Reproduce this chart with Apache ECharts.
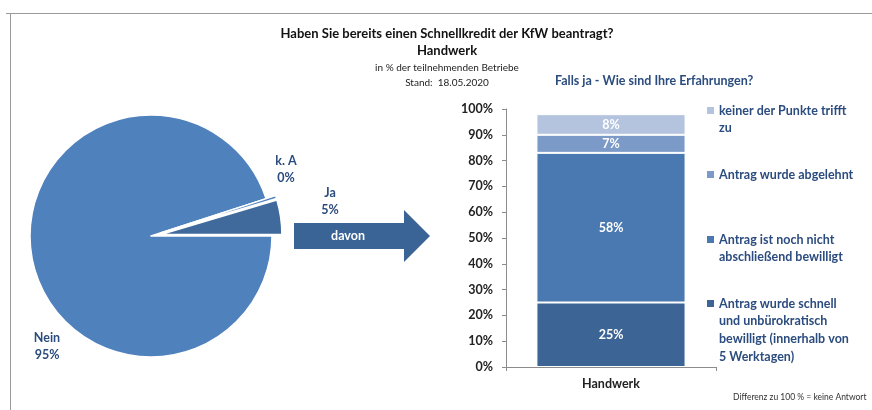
<!DOCTYPE html>
<html>
<head>
<meta charset="utf-8">
<script src="https://cdn.jsdelivr.net/npm/echarts@6/dist/echarts.min.js"></script>
<style>
  html, body { margin: 0; padding: 0; background: #fff; }
  #chart { width: 872px; height: 410px; }
</style>
</head>
<body>
<div id="chart"></div>
<script>
// pie: Haben Sie bereits einen Schnellkredit beantragt?
const pieNames = ['k. A', 'Ja', 'Nein'];
const pieValues = [0.4, 4.6, 95.0];
const pieColors = ['#4F81BD', '#3F6A9B', '#4F81BD'];

// stacked bar: Falls ja - Wie sind Ihre Erfahrungen? (bottom to top)
const barCategories = ['Handwerk'];
const barNames = [
    'Antrag wurde schnell\nund unbürokratisch\nbewilligt (innerhalb von\n5 Werktagen)',
    'Antrag ist noch nicht\nabschließend bewilligt',
    'Antrag wurde abgelehnt',
    'keiner der Punkte trifft\nzu'
];
const barValues = [25, 58, 7, 8];
const barColors = ['#3C6494', '#4A78B0', '#7B9AC8', '#B4C4DE'];
const yTicks = [0, 10, 20, 30, 40, 50, 60, 70, 80, 90, 100];

const FONT = 'Lato, "Liberation Sans", sans-serif';
const DARK_BLUE = '#2B4C7E';

let chartElem = document.getElementById('chart');
let chart = echarts.init(chartElem, null, { renderer: 'canvas' });

// manual legend, top item first like the original
let legendY = [111, 175, 240, 304];
let legendGraphics = [];
for (let i = barNames.length - 1; i >= 0; i--) {
    let y = legendY[barNames.length - 1 - i];
    legendGraphics.push({
        type: 'rect',
        shape: { x: 707, y: y - 4, width: 7, height: 7 },
        style: { fill: barColors[i] }
    });
    legendGraphics.push({
        type: 'text',
        x: 719,
        y: y - 9,
        style: {
            text: barNames[i],
            fill: DARK_BLUE,
            font: 'bold 12.5px ' + FONT,
            lineHeight: 17.6,
            verticalAlign: 'top'
        }
    });
}

// pie texts sit where the original put them (no leader lines)
const pieLabelPos = {
    'k. A': [286, 169],
    'Ja': [330, 201],
    'Nein': [47, 346]
};
let pieLabelGraphics = pieNames.map((n, i) => ({
    type: 'text',
    x: pieLabelPos[n][0],
    y: pieLabelPos[n][1],
    style: {
        text: n + '\n' + Math.round(pieValues[i]) + '%',
        fill: DARK_BLUE,
        font: 'bold 12.5px ' + FONT,
        lineHeight: 17,
        align: 'center',
        verticalAlign: 'middle'
    }
}));

chart.setOption({
    animation: false,
    textStyle: { fontFamily: FONT },
    title: [{
        text: 'Haben Sie bereits einen Schnellkredit der KfW beantragt?',
        left: 442, top: 22, textAlign: 'center',
        textStyle: { fontSize: 13, fontWeight: 'bold', color: '#111', fontFamily: FONT }
    }, {
        text: 'Handwerk',
        left: 442, top: 39, textAlign: 'center',
        textStyle: { fontSize: 13, fontWeight: 'bold', color: '#111', fontFamily: FONT }
    }, {
        text: 'in % der teilnehmenden Betriebe',
        left: 442, top: 58, textAlign: 'center',
        textStyle: { fontSize: 10, fontWeight: 'normal', color: '#222', fontFamily: FONT }
    }, {
        text: 'Stand:  18.05.2020',
        left: 442, top: 73, textAlign: 'center',
        textStyle: { fontSize: 10, fontWeight: 'normal', color: '#222', fontFamily: FONT }
    }, {
        text: 'Falls ja - Wie sind Ihre Erfahrungen?',
        left: 550, top: 69,
        textStyle: { fontSize: 12.5, fontWeight: 'bold', color: DARK_BLUE, fontFamily: FONT }
    }, {
        text: 'Differenz zu 100 % = keine Antwort',
        left: 728, top: 388,
        textStyle: { fontSize: 8.5, fontWeight: 'normal', color: '#333', fontFamily: FONT }
    }],
    grid: { left: 506, right: 156, top: 109, bottom: 43 },
    xAxis: {
        type: 'category',
        data: barCategories,
        axisLine: { lineStyle: { color: '#8c8c8c', width: 1 } },
        axisTick: { show: true, length: 4, lineStyle: { color: '#8c8c8c' } },
        axisLabel: { color: '#222', fontSize: 12.5, fontWeight: 'bold', margin: 10, fontFamily: FONT }
    },
    yAxis: {
        type: 'value',
        min: 0, max: 100, interval: 10,
        axisLine: { show: true, lineStyle: { color: '#8c8c8c', width: 1 } },
        axisTick: { show: true, length: 4, lineStyle: { color: '#8c8c8c' } },
        splitLine: { show: false },
        axisLabel: {
            color: '#222', fontSize: 12.5, fontWeight: 'bold', margin: 13, fontFamily: FONT,
            customValues: yTicks,
            formatter: v => v + '%'
        }
    },
    series: [
        {
            type: 'pie',
            center: [151, 236],
            radius: 121,
            startAngle: (pieValues[0] + pieValues[1]) / 100 * 360,
            clockwise: true,
            selectedMode: 'multiple',
            selectedOffset: 10,
            silent: true,
            itemStyle: { borderColor: '#fff', borderWidth: 1.5 },
            labelLine: { show: false },
            label: { show: false },
            data: pieNames.map((n, i) => ({
                name: n,
                value: pieValues[i],
                selected: n !== 'Nein',
                itemStyle: { color: pieColors[i] }
            }))
        },
        ...barNames.map((n, i) => ({
            type: 'bar',
            name: n,
            stack: 'total',
            barWidth: '71%',
            data: [barValues[i]],
            itemStyle: { color: barColors[i], borderColor: '#fff', borderWidth: 1 },
            label: {
                show: true,
                position: 'inside',
                formatter: '{c}%',
                color: '#fff',
                fontSize: 12.5,
                fontWeight: 'bold',
                fontFamily: FONT
            }
        }))
    ],
    graphic: [
        // frame
        { type: 'line', shape: { x1: 6, y1: 13.5, x2: 872, y2: 13.5 }, style: { stroke: '#9a9a9a', lineWidth: 1 } },
        { type: 'line', shape: { x1: 10.5, y1: 13, x2: 10.5, y2: 410 }, style: { stroke: '#9a9a9a', lineWidth: 1 } },
        // davon arrow
        {
            type: 'polygon',
            shape: { points: [[294, 223], [404, 223], [404, 210], [430, 236], [404, 262], [404, 249], [294, 249]] },
            style: { fill: '#3A6396' }
        },
        {
            type: 'text', x: 348, y: 236,
            style: { text: 'davon', fill: '#fff', font: 'bold 12.5px ' + FONT, align: 'center', verticalAlign: 'middle' }
        },
        ...pieLabelGraphics,
        ...legendGraphics
    ]
});

window.addEventListener('resize', function () {
    setTimeout(() => {
        chart.resize();
    }, 500);
});
</script>
</body>
</html>
